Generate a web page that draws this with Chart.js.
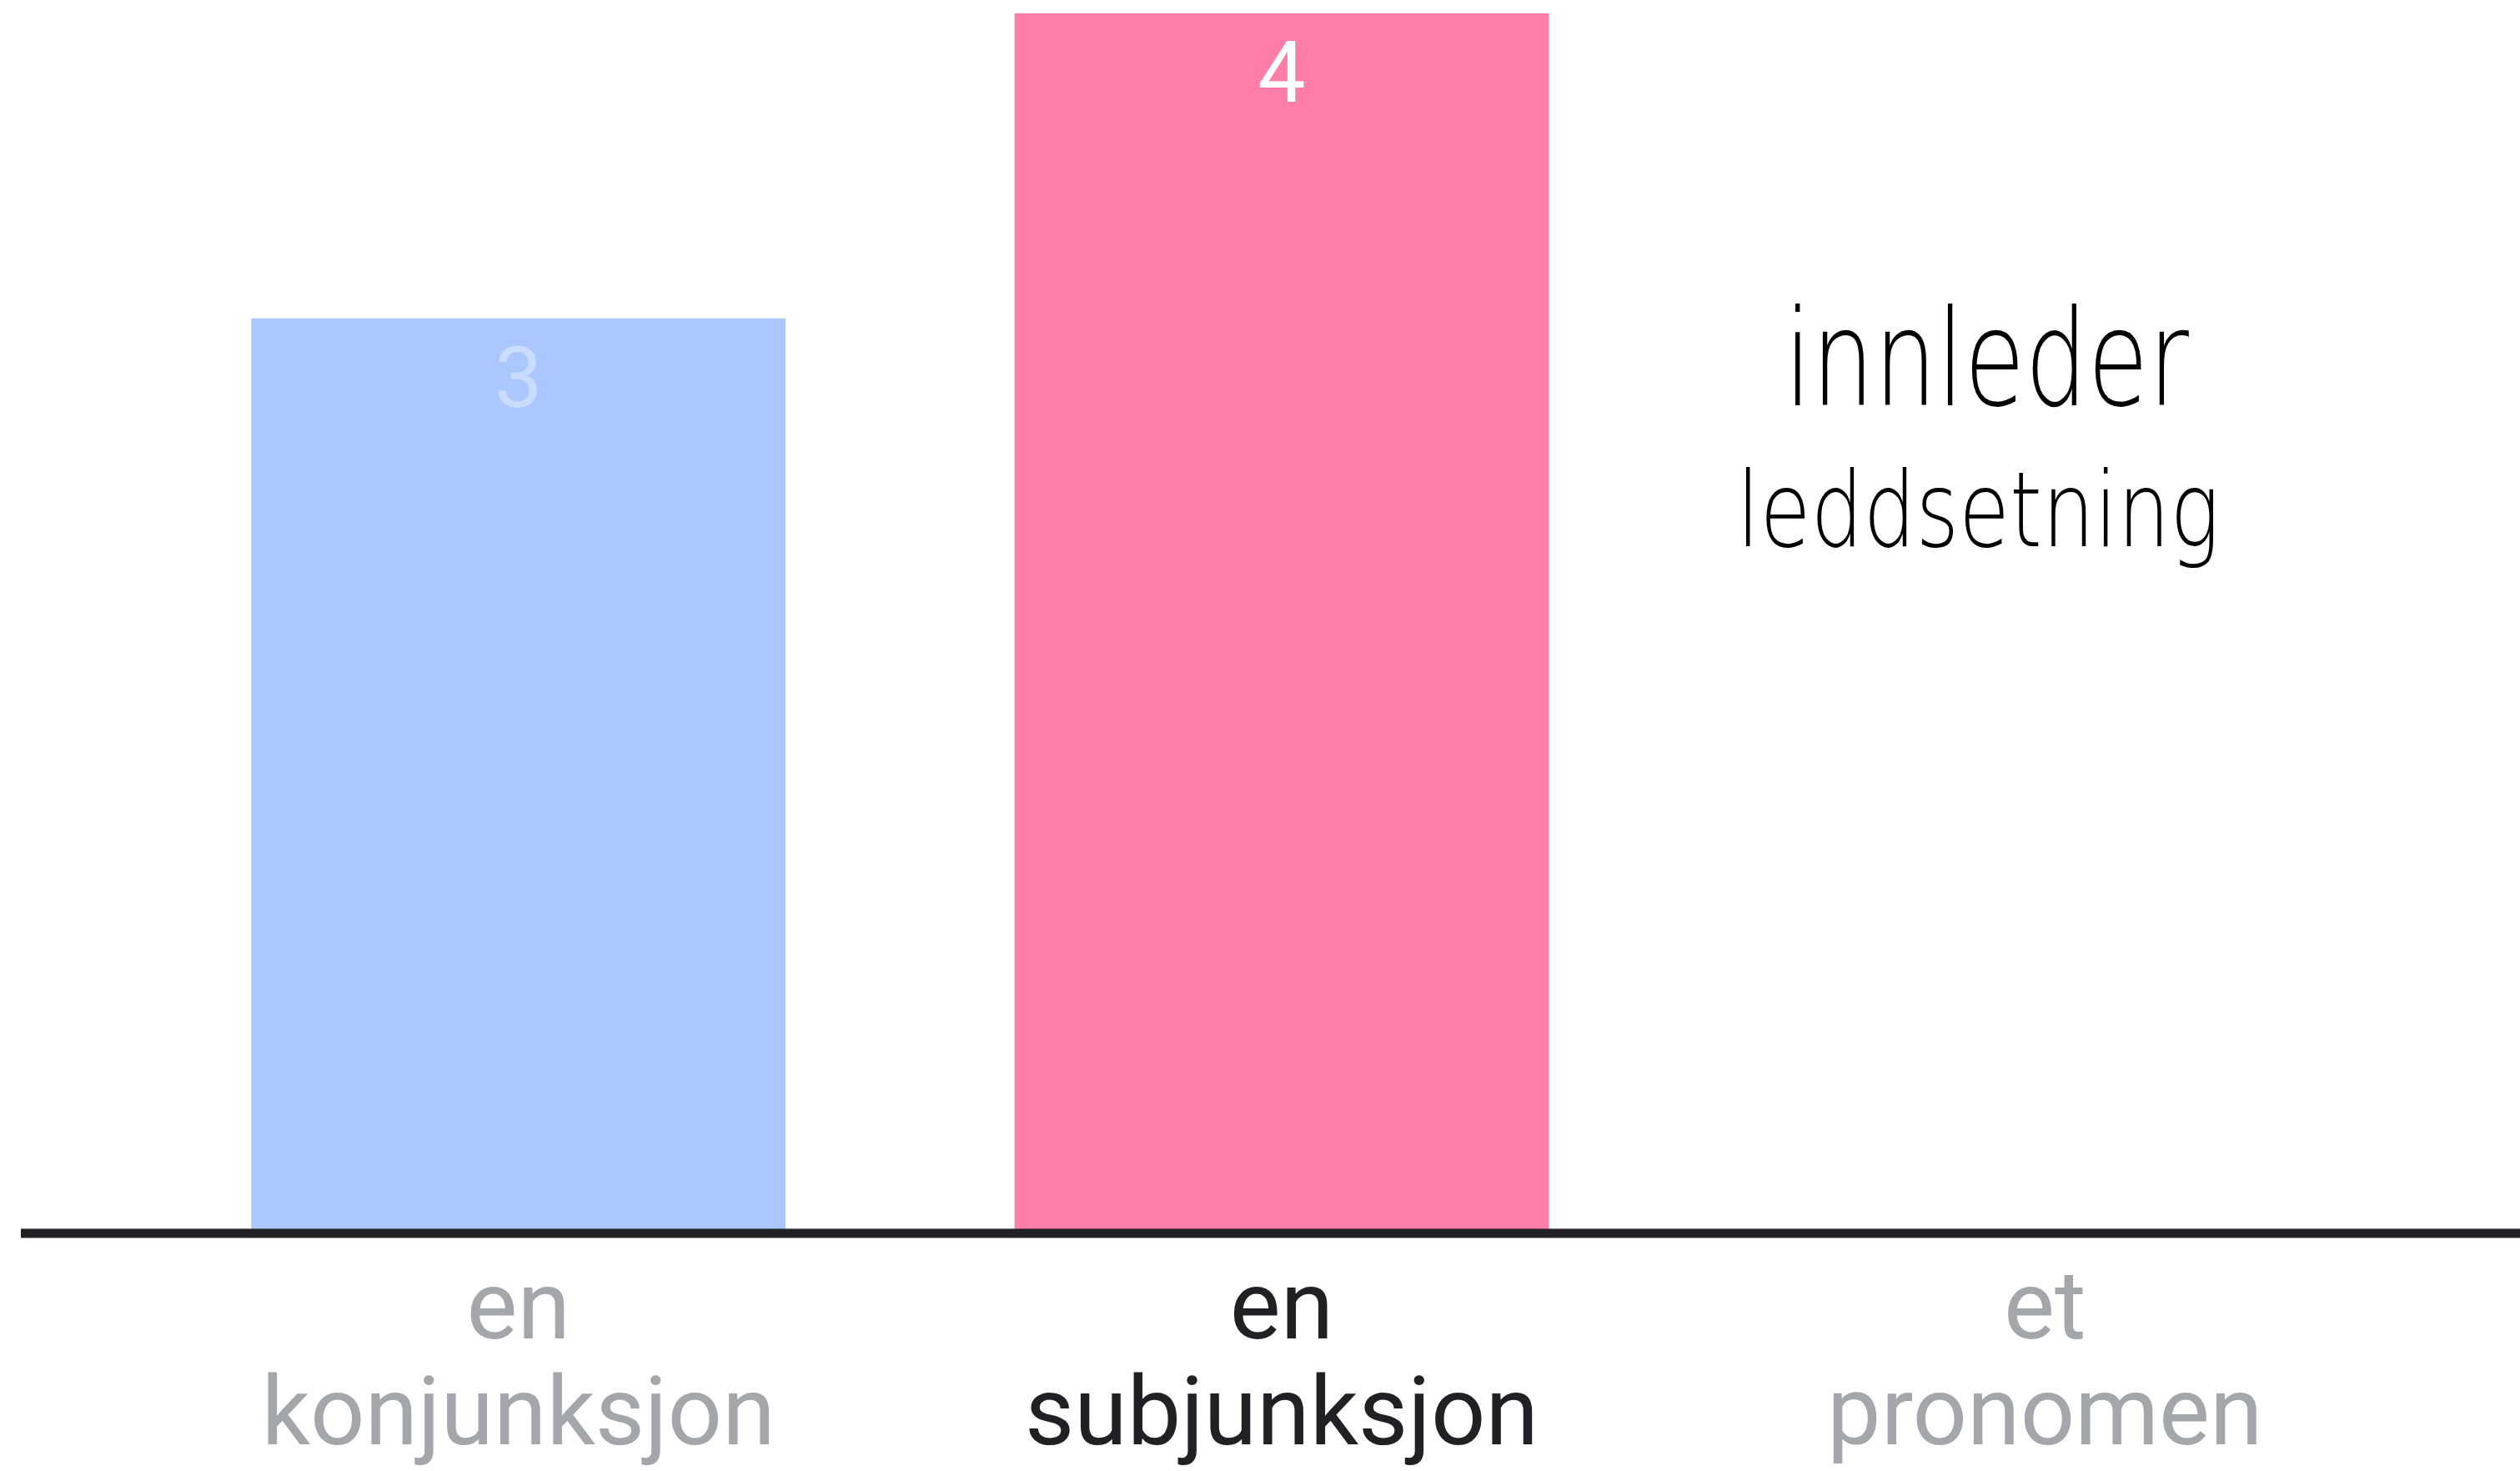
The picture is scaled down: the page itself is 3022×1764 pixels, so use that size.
<!DOCTYPE html>
<html>
<head>
<meta charset="utf-8">
<script src="https://cdn.jsdelivr.net/npm/chart.js@4/dist/chart.umd.min.js"></script>
<style>
  html, body { margin: 0; padding: 0; background: #ffffff; }
  #wrap { width: 3022px; height: 1764px; }
</style>
</head>
<body>
<div id="wrap"><canvas id="chart"></canvas></div>
<script>
const categories = [['en', 'konjunksjon'], ['en', 'subjunksjon'], ['et', 'pronomen']];
const answers = [3, 4, 0];
const barColors = ['#aac7ff', '#ff7ea8', '#cccccc'];
const labelColors = ['#a3a6aa', '#202124', '#a3a6aa'];
const valueColors = ['rgba(255,255,255,0.38)', '#ffffff', '#ffffff'];
const note = ['innleder', 'leddsetning'];

// value numbers inside the top of each bar
const valueLabels = {
    id: 'valueLabels',
    afterDatasetsDraw(chart) {
        const ctx = chart.ctx;
        const meta = chart.getDatasetMeta(0);
        ctx.save();
        ctx.font = '400 102px Roboto';
        ctx.textAlign = 'center';
        ctx.textBaseline = 'alphabetic';
        meta.data.forEach((bar, i) => {
            if (!answers[i]) return;
            ctx.fillStyle = valueColors[i];
            ctx.fillText(String(answers[i]), bar.x, bar.y + 106);
        });
        ctx.restore();
    }
};

// thick baseline running past the plot area, plus the handwritten note
const extras = {
    id: 'extras',
    afterDraw(chart) {
        const ctx = chart.ctx;
        const y0 = chart.scales.y.getPixelForValue(0);
        ctx.save();
        ctx.strokeStyle = '#202124';
        ctx.lineWidth = 11;
        ctx.beginPath();
        ctx.moveTo(25, y0);
        ctx.lineTo(chart.width, y0);
        ctx.stroke();

        const xc = chart.scales.x.getPixelForValue(2);
        const top = chart.chartArea.top;
        ctx.fillStyle = '#000000';
        ctx.textAlign = 'center';
        ctx.textBaseline = 'alphabetic';

        ctx.save();
        ctx.translate(xc - 70, top + 470);
        ctx.scale(0.74, 1);
        ctx.font = '200 160px "DejaVu Sans", sans-serif';
        ctx.fillText(note[0], 0, 0);
        ctx.restore();

        ctx.save();
        ctx.translate(xc - 80, top + 639);
        ctx.scale(0.8, 1);
        ctx.font = '200 124px "DejaVu Sans", sans-serif';
        ctx.fillText(note[1], 0, 0);
        ctx.restore();

        ctx.restore();
    }
};

new Chart(document.getElementById('chart'), {
    type: 'bar',
    data: {
        labels: categories,
        datasets: [{
            data: answers,
            backgroundColor: barColors,
            borderWidth: 0,
            barPercentage: 0.7,
            categoryPercentage: 1.0
        }]
    },
    options: {
        responsive: true,
        maintainAspectRatio: false,
        animation: false,
        layout: { padding: { left: 164, right: 112, top: 16, bottom: -36 } },
        plugins: { legend: { display: false }, tooltip: { enabled: false } },
        scales: {
            y: { display: false, min: 0, max: 4 },
            x: {
                grid: { display: false, drawTicks: false },
                border: { display: false },
                ticks: {
                    font: { family: 'Roboto', size: 115, lineHeight: 1.1 },
                    color: (c) => labelColors[c.index],
                    padding: 34,
                    maxRotation: 0,
                    autoSkip: false
                }
            }
        }
    },
    plugins: [valueLabels, extras]
});
</script>
</body>
</html>
